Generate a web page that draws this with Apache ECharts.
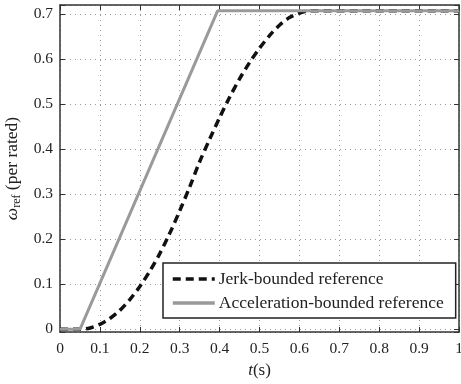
<!DOCTYPE html>
<html lang="en">
<head>
    <meta charset="UTF-8">
    <title>Speed reference</title>
    <script src="https://cdn.jsdelivr.net/npm/echarts@6/dist/echarts.min.js"></script>
    <style>
        html, body {margin: 0; padding: 0; background: #fff;}
        #chart {width: 461px; height: 384px;}
    </style>
</head>
<body>
<div id="chart"></div>
<script>
    // time axis ticks (s)
    var xTicks = [0, 0.1, 0.2, 0.3, 0.4, 0.5, 0.6, 0.7, 0.8, 0.9, 1]
    var yTicks = [0, 0.1, 0.2, 0.3, 0.4, 0.5, 0.6, 0.7]

    // jerk-bounded reference
    var jerkT = [0, 0.05, 0.075, 0.1, 0.125, 0.15, 0.175, 0.2, 0.225, 0.25, 0.275, 0.3, 0.325, 0.35,
        0.375, 0.4, 0.425, 0.45, 0.475, 0.5, 0.525, 0.55, 0.575, 0.6, 0.625, 1]
    var jerkW = [0, 0, 0.003, 0.011, 0.024, 0.042, 0.066, 0.095, 0.129, 0.168, 0.213, 0.263, 0.316, 0.372,
        0.422, 0.470, 0.515, 0.556, 0.592, 0.624, 0.652, 0.675, 0.692, 0.702, 0.707, 0.707]

    // acceleration-bounded reference
    var accT = [0, 0.05, 0.395, 1]
    var accW = [0, 0, 0.707, 0.707]

    var serif = '"Liberation Serif", "DejaVu Serif", serif'

    function pairs(t, w) {
        return t.map(function (v, i) { return [v, w[i]] })
    }

    // only label the 0.1 steps, hide the extent ends
    function yLabel(v) {
        var r = Math.round(v * 10) / 10
        return Math.abs(v - r) < 1e-6 && yTicks.indexOf(r) >= 0 ? String(r) : ''
    }

    var myChart = echarts.init(document.getElementById('chart'))

    var option = {
        animation: false,
        backgroundColor: '#fff',
        textStyle: {fontFamily: serif},
        grid: {left: 60, right: 2, top: 5, bottom: 52, outerBoundsMode: 'none', containLabel: false},
        legend: {
            orient: 'vertical',
            left: 163,
            top: 263,
            padding: [7, 12, 6, 8],
            itemGap: 6,
            itemWidth: 42,
            itemHeight: 14,
            backgroundColor: '#fff',
            borderColor: '#222',
            borderWidth: 1.5,
            borderRadius: 0,
            itemStyle: {opacity: 0},
            lineStyle: {width: 3.5},
            textStyle: {fontFamily: serif, fontSize: 17.5, color: '#222', padding: [0, 0, 0, -1]},
            data: ['Jerk-bounded reference', 'Acceleration-bounded reference']
        },
        xAxis: [
            {
                type: 'value',
                min: xTicks[0],
                max: xTicks[xTicks.length - 1],
                interval: 0.1,
                name: '{i|t}(s)',
                nameLocation: 'middle',
                nameGap: 30,
                nameTextStyle: {
                    fontFamily: serif, fontSize: 17, color: '#222',
                    rich: {i: {fontFamily: serif, fontSize: 17, fontStyle: 'italic', color: '#222'}}
                },
                axisLine: {show: true, onZero: false, lineStyle: {color: '#333', width: 1.5}},
                axisTick: {show: true, inside: true, length: 5, lineStyle: {color: '#333'}},
                axisLabel: {fontFamily: serif, fontSize: 15.5, color: '#222', margin: 9},
                splitLine: {show: true, lineStyle: {color: '#999', type: [1, 4], width: 1}}
            },
            {
                type: 'value',
                position: 'top',
                min: xTicks[0],
                max: xTicks[xTicks.length - 1],
                interval: 0.1,
                axisLine: {show: true, onZero: false, lineStyle: {color: '#333', width: 1.5}},
                axisTick: {show: true, inside: true, length: 5, lineStyle: {color: '#333'}},
                axisLabel: {show: false},
                splitLine: {show: false}
            }
        ],
        yAxis: [
            {
                type: 'value',
                min: -0.006,
                max: 0.72,
                splitNumber: 7,
                name: '{w|ω}{s|ref} (per rated)',
                nameLocation: 'middle',
                nameGap: 36,
                nameTextStyle: {
                    fontFamily: serif, fontSize: 17.5, color: '#222',
                    rich: {
                        w: {fontFamily: serif, fontSize: 17.5, fontStyle: 'italic', color: '#222'},
                        s: {fontFamily: serif, fontSize: 12, color: '#222', padding: [9, 0, 0, 0]}
                    }
                },
                axisLine: {show: true, onZero: false, lineStyle: {color: '#333', width: 1.5}},
                axisTick: {show: true, inside: true, length: 5, lineStyle: {color: '#333'}},
                axisLabel: {fontFamily: serif, fontSize: 15.5, color: '#222', margin: 7, formatter: yLabel},
                splitLine: {show: true, lineStyle: {color: '#999', type: [1, 4], width: 1}}
            },
            {
                type: 'value',
                position: 'right',
                min: -0.006,
                max: 0.72,
                splitNumber: 7,
                axisLine: {show: true, onZero: false, lineStyle: {color: '#333', width: 1.5}},
                axisTick: {show: true, inside: true, length: 5, lineStyle: {color: '#333'}},
                axisLabel: {show: false},
                splitLine: {show: false}
            }
        ],
        series: [
            {
                name: 'Jerk-bounded reference',
                type: 'line',
                data: pairs(jerkT, jerkW),
                smooth: 0.3,
                symbol: 'none',
                z: 3,
                lineStyle: {color: '#111', width: 3.5, type: [8, 5]},
                itemStyle: {color: '#111'}
            },
            {
                name: 'Acceleration-bounded reference',
                type: 'line',
                data: pairs(accT, accW),
                symbol: 'none',
                z: 4,
                lineStyle: {color: '#9a9a9a', width: 3},
                itemStyle: {color: '#9a9a9a'}
            }
        ]
    };

    myChart.setOption(option)
</script>
</body>
</html>
